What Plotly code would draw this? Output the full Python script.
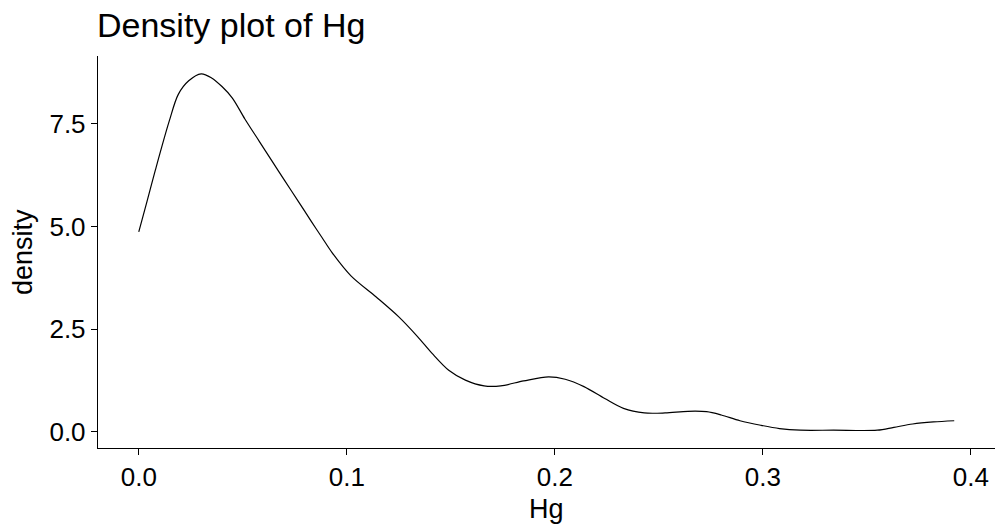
import plotly.graph_objects as go

hg_x = [0.000, 0.004, 0.008, 0.0146, 0.019, 0.024, 0.030, 0.035, 0.040,
        0.045, 0.051, 0.058, 0.064, 0.070, 0.077, 0.083, 0.088, 0.093, 0.102,
        0.114, 0.125, 0.134, 0.141, 0.149, 0.157, 0.166, 0.174, 0.185,
        0.197, 0.205, 0.214, 0.224, 0.233, 0.243, 0.253, 0.264, 0.273, 0.280,
        0.289, 0.299, 0.308, 0.318, 0.334, 0.355, 0.363, 0.372, 0.382, 0.392]
density = [4.87, 5.62, 6.38, 7.56, 8.22, 8.55, 8.72, 8.62, 8.41,
           8.13, 7.62, 7.07, 6.60, 6.13, 5.59, 5.12, 4.74, 4.36, 3.80,
           3.29, 2.80, 2.32, 1.91, 1.50, 1.26, 1.12, 1.12, 1.24,
           1.34, 1.28, 1.10, 0.81, 0.57, 0.46, 0.46, 0.50, 0.49, 0.41,
           0.27, 0.16, 0.08, 0.04, 0.04, 0.04, 0.11, 0.19, 0.24, 0.27]

x_ticks = [0.0, 0.1, 0.2, 0.3, 0.4]
x_tick_labels = ["0.0", "0.1", "0.2", "0.3", "0.4"]
y_ticks = [0.0, 2.5, 5.0, 7.5]
y_tick_labels = ["0.0", "2.5", "5.0", "7.5"]

FONT = "Liberation Sans, Arial, sans-serif"

fig = go.Figure()
fig.add_trace(go.Scatter(
    x=hg_x, y=density, mode="lines",
    line=dict(color="black", width=1.2, shape="spline", smoothing=0.9),
    hoverinfo="skip", showlegend=False,
))

fig.update_layout(
    width=995, height=528,
    margin=dict(l=98, r=0, t=56, b=80),
    paper_bgcolor="white", plot_bgcolor="white",
    font=dict(family=FONT, color="black", size=26),
    title=dict(text="Density plot of Hg", x=97/995, xanchor="left", xref="container",
               y=1 - 25/528, yanchor="middle", yref="container",
               font=dict(family=FONT, size=34, color="black")),
    xaxis=dict(range=[-0.0196, 0.4116], tickvals=x_ticks, ticktext=x_tick_labels,
               showgrid=False, zeroline=False, showline=True, linecolor="black", linewidth=1.4,
               ticks="outside", ticklen=6, tickwidth=1.3, tickcolor="black",
               tickfont=dict(family=FONT, size=26, color="black")),
    yaxis=dict(range=[-0.394, 9.154], tickvals=y_ticks, ticktext=y_tick_labels,
               showgrid=False, zeroline=False, showline=True, linecolor="black", linewidth=1.4,
               ticks="outside", ticklen=6, tickwidth=1.3, tickcolor="black",
               tickfont=dict(family=FONT, size=26, color="black")),
    annotations=[
        dict(text="Hg", x=0.5, xref="paper", y=-(509 - 448) / 392, yref="paper",
             xanchor="center", yanchor="middle", showarrow=False,
             font=dict(family=FONT, size=27, color="black")),
        dict(text="density", x=(23 - 98) / 897, xref="paper", y=0.5, yref="paper",
             xanchor="center", yanchor="middle", textangle=-90, showarrow=False,
             font=dict(family=FONT, size=27, color="black")),
    ],
)

fig.write_html("out.html")
